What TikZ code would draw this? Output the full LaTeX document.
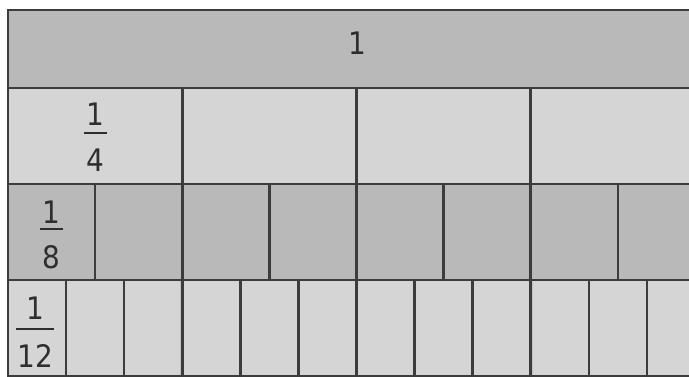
\documentclass[tikz,border=0pt]{standalone}
\usepackage{fontspec}
\setmainfont{DejaVu Sans Condensed}
\definecolor{darkfill}{HTML}{B8B9B8}
\definecolor{lightfill}{HTML}{D4D5D4}
\definecolor{gridline}{HTML}{3C3C3C}
\definecolor{digit}{HTML}{2E2E2E}
\begin{document}
\begin{tikzpicture}[x=1pt,y=-1pt,
  cell/.style={draw=gridline,line width=2.6pt,anchor=north west,inner sep=0pt,outer sep=0pt},
  numtext/.style={text=digit,font=\fontsize{31}{34}\selectfont,inner sep=0pt},
  fracbar/.style={fill=digit,inner sep=0pt,minimum height=2.2pt}]
\useasboundingbox (0,0) rectangle (689,377);
\clip (0,0) rectangle (689,377);
\fill[white] (0,0) rectangle (689,377);
% row 1: whole
\node[cell,fill=darkfill,minimum width=697pt,minimum height=78pt] (whole) at (8,10) {};
% row 2: quarters
\foreach \i in {0,...,3}{
  \node[cell,fill=lightfill,minimum width=174.25pt,minimum height=96pt] (q\i) at ({8+174.25*\i},88) {};
}
% row 3: eighths
\foreach \i in {0,...,7}{
  \node[cell,fill=darkfill,minimum width=87.125pt,minimum height=96pt] (e\i) at ({8+87.125*\i},184) {};
}
% row 4: twelfths
\foreach \i in {0,...,11}{
  \node[cell,fill=lightfill,minimum width=58.083pt,minimum height=96pt] (t\i) at ({8+58.083*\i},280) {};
}
% redraw quarter boundaries on top
\foreach \i in {1,2,3}{
  \draw[gridline,line width=2.6pt] (q\i.north west) -- (q\i.south west);
  \draw[gridline,line width=2.6pt] (e\the\numexpr2*\i\relax.south west) -- (t\the\numexpr3*\i\relax.south west);
}
% labels
\node[numtext] (onelab) at (357,43.5) {1};
% 1/4
\node[numtext] (n4) at ([yshift=-26pt]q0.north) {1};
\node[fracbar,minimum width=23pt] (b4) at ([yshift=-45pt]q0.north) {};
\node[numtext] (d4) at ([yshift=-72pt]q0.north) {4};
% 1/8
\node[numtext] (n8) at ([yshift=-28pt]e0.north) {1};
\node[fracbar,minimum width=23pt] (b8) at ([yshift=-45pt]e0.north) {};
\node[numtext] (d8) at ([yshift=-73.5pt]e0.north) {8};
% 1/12
\node[numtext] (n12) at ([yshift=-28.5pt,xshift=-2pt]t0.north) {1};
\node[fracbar,minimum width=38pt] (b12) at ([yshift=-49pt,xshift=-2pt]t0.north) {};
\node[numtext] (d12) at ([yshift=-76pt,xshift=-2pt]t0.north) {12};
\end{tikzpicture}
\end{document}
